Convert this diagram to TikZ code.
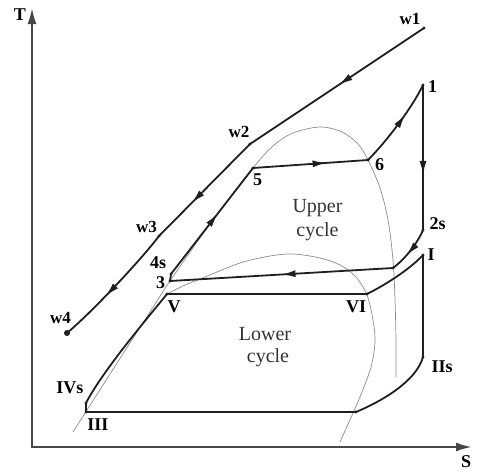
\documentclass[tikz,border=0pt]{standalone}
\usepackage{fontspec}
\setmainfont{Liberation Serif}
\usetikzlibrary{arrows.meta,decorations.markings}
\begin{document}
\begin{tikzpicture}[x=1pt,y=-1pt,
  cyc/.style={line width=1.8pt, draw=black!88, line join=round},
  dome/.style={line width=0.7pt, draw=black!45},
  axisline/.style={line width=2.2pt, draw=black!72, {Latex[length=16pt,width=9pt]}-{Latex[length=16pt,width=9pt]}},
  midarrow/.style={postaction={decorate},decoration={markings,mark=at position #1 with {\arrow{Latex[length=14pt,width=7pt]}}}},
  lbl/.style={font=\fontsize{18}{18}\selectfont\bfseries, inner sep=0pt, anchor=base},
  wlbl/.style={font=\fontsize{17}{17}\selectfont\bfseries, inner sep=0pt, anchor=base},
  txt/.style={font=\fontsize{20}{20}\selectfont, inner sep=0pt, anchor=base, text=black!80}
]
\useasboundingbox (0,0) rectangle (478,471);

% points
\coordinate (O) at (32,447);
\coordinate (Ttip) at (32,8);
\coordinate (Stip) at (472,447);
\coordinate (w1) at (424,28);
\coordinate (w2) at (250,144);
\coordinate (w3) at (159,236);
\coordinate (w4) at (67,333);
\coordinate (p1) at (423,85);
\coordinate (p2s) at (423,230);
\coordinate (p6) at (368,160);
\coordinate (p5) at (253,168);
\coordinate (p4s) at (171,274);
\coordinate (p3) at (170,281);
\coordinate (P) at (393,268);
\coordinate (pV) at (167,294);
\coordinate (pVI) at (367,294);
\coordinate (pI) at (423,255);
\coordinate (pIIs) at (423,357);
\coordinate (Q) at (356,412);
\coordinate (pIII) at (86,412);
\coordinate (pIVs) at (86,403);

% axes
\draw[axisline] (Ttip) -- (O) -- (Stip);

% saturation domes
\draw[dome] plot[smooth, tension=0.55] coordinates {(73,432) (110,374) (148,315) (170,281) (210,224) (253,168) (273,146) (293,133) (320,127) (342,132) (358,144) (368,160) (380,188) (388,220) (393,260) (395,300) (396,340) (396,377)};
\draw[dome] plot[smooth, tension=0.55] coordinates {(167,294) (185,285) (205,277) (240,263) (270,256) (293,254) (320,258) (340,265) (356,277) (367,295) (373,320) (375,342) (371,367) (362,392) (353,413) (340,442)};

% water line
\draw[cyc, midarrow=0.49] (w1) -- (w2);
\draw[cyc, midarrow=0.64] (w2) -- (w3);
\draw[cyc, midarrow=0.6] (w3) .. controls (141,260) and (90,314) .. (w4);

% upper cycle
\draw[cyc] (p3) -- (p4s);
\draw[cyc, midarrow=0.57] (p4s) -- (p5);
\draw[cyc, midarrow=0.64] (p5) -- (p6);
\draw[cyc, midarrow=0.63] (p6) .. controls (386,142) and (412,108) .. (p1);
\draw[cyc, midarrow=0.62] (p1) -- (p2s);
\draw[cyc, midarrow=0.62] (p2s) .. controls (417,244) and (405,259) .. (P);
\draw[cyc, midarrow=0.5] (P) -- (p3);

% lower cycle
\draw[cyc] (pV) -- (pVI);
\draw[cyc] (pVI) .. controls (385,285) and (409,270) .. (pI);
\draw[cyc] (pI) -- (pIIs);
\draw[cyc] (pIIs) .. controls (416,382) and (380,402) .. (Q);
\draw[cyc] (Q) -- (pIII);
\draw[cyc] (pIII) -- (pIVs);
\draw[cyc] (pIVs) .. controls (102,372) and (145,321) .. (pV);

% dots
\foreach \p in {w1,w2,w3,p1,p2s,p6,p5,p4s,p3,P,pV,pVI,pI,pIIs,Q,pIII,pIVs}
  \fill[black!88] (\p) circle (1.6);
\fill[black!88] (w4) circle (3);

% labels
\node[lbl] (lT) at (20,20) {T};
\node[lbl] (lS) at (466,467) {S};
\node[wlbl] (lw1) at (410,24) {w1};
\node[wlbl] (lw2) at (239,137) {w2};
\node[wlbl] (lw3) at (146.5,232) {w3};
\node[wlbl] (lw4) at (60.5,323) {w4};
\node[lbl] (l1) at (432.5,92) {1};
\node[lbl] (l2s) at (437.5,229) {2s};
\node[lbl] (l6) at (379.5,170) {6};
\node[lbl] (l5) at (257.5,185) {5};
\node[lbl] (l4s) at (158,268) {4s};
\node[lbl] (l3) at (160.5,288) {3};
\node[lbl] (lV) at (174,312) {V};
\node[lbl] (lVI) at (356,312) {VI};
\node[lbl] (lI) at (431,260) {I};
\node[lbl] (lIIs) at (442,372) {IIs};
\node[lbl] (lIVs) at (70,393) {IVs};
\node[lbl] (lIII) at (98,430) {III};
\node[txt] (up1) at (317.5,212) {Upper};
\node[txt] (up2) at (317.5,236) {cycle};
\node[txt] (lo1) at (265,340) {Lower};
\node[txt] (lo2) at (268,362) {cycle};
\end{tikzpicture}
\end{document}
